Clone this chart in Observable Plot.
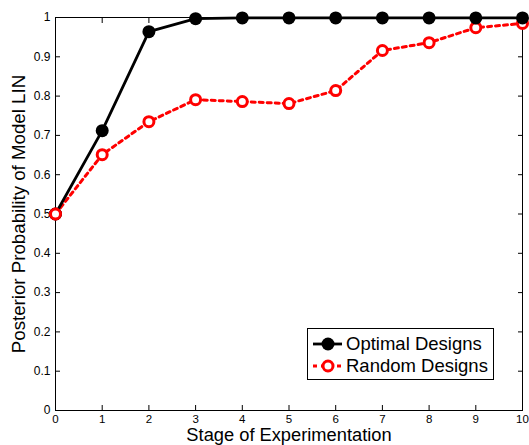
<!DOCTYPE html>
<html>
<head>
<meta charset="utf-8">
<script src="https://cdn.jsdelivr.net/npm/d3@7"></script>
<script src="https://cdn.jsdelivr.net/npm/@observablehq/plot@0.6"></script>
<style>
  html, body { margin: 0; padding: 0; background: #fff; }
  #wrap { position: relative; width: 529px; height: 445px; font-family: "Liberation Sans", Arial, Helvetica, sans-serif; }
  #legend { position: absolute; left: 307px; top: 328px; width: 185px; height: 50px; border: 1px solid #000; background: #fff; font-size: 18.5px; color: #000; }
  .row { position: absolute; left: 5px; height: 20px; display: flex; align-items: center; white-space: nowrap; }
  .row svg { margin-right: 3px; }
</style>
</head>
<body>
<div id="wrap"></div>
<script>
const stages = [0, 1, 2, 3, 4, 5, 6, 7, 8, 9, 10];
const optimal = [0.5, 0.712, 0.964, 0.997, 0.999, 0.999, 0.999, 0.999, 0.999, 0.999, 0.999];
const random = [0.5, 0.651, 0.735, 0.791, 0.786, 0.781, 0.814, 0.916, 0.936, 0.974, 0.985];
const xTicks = [0, 1, 2, 3, 4, 5, 6, 7, 8, 9, 10];
const yTicks = [0, 0.1, 0.2, 0.3, 0.4, 0.5, 0.6, 0.7, 0.8, 0.9, 1];
const seriesNames = ["Optimal Designs", "Random Designs"];
const xLabel = "Stage of Experimentation";
const yLabel = "Posterior Probability of Model LIN";

const optData = stages.map((s, i) => ({x: s, y: optimal[i]}));
const rndData = stages.map((s, i) => ({x: s, y: random[i]}));
const fmt = d => String(d);

const chart = Plot.plot({
  width: 529,
  height: 445,
  marginLeft: 55,
  marginRight: 7,
  marginTop: 17,
  marginBottom: 35,
  style: {fontFamily: "'Liberation Sans', Arial, Helvetica, sans-serif", fontSize: "12px", color: "#000", background: "#fff", overflow: "visible"},
  x: {domain: [0, 10]},
  y: {domain: [0, 1]},
  marks: [
    Plot.frame({stroke: "#000", strokeWidth: 1}),
    Plot.axisX(xTicks, {anchor: "bottom", tickSize: -5, tickFormat: () => "", label: null, stroke: "#000"}),
    Plot.axisX(xTicks, {anchor: "top", tickSize: -5, tickFormat: () => "", label: null, stroke: "#000"}),
    Plot.axisY(yTicks, {anchor: "left", tickSize: -5, tickFormat: () => "", label: null, stroke: "#000"}),
    Plot.axisY(yTicks, {anchor: "right", tickSize: -5, tickFormat: () => "", label: null, stroke: "#000"}),
    Plot.axisX(xTicks, {anchor: "bottom", tickSize: 0, tickPadding: 4, tickFormat: fmt, label: null, fill: "#000", fontSize: 11.5}),
    Plot.axisY(yTicks, {anchor: "left", tickSize: 0, tickPadding: 5, tickFormat: fmt, label: null, fill: "#000", fontSize: 12}),
    Plot.text([xLabel], {frameAnchor: "bottom", dy: 25, lineAnchor: "middle", fontSize: 18.3, fill: "#000"}),
    Plot.text([yLabel], {frameAnchor: "left", dx: -36, rotate: -90, textAnchor: "middle", lineAnchor: "middle", fontSize: 18.7, fill: "#000"}),
    Plot.line(rndData, {x: "x", y: "y", stroke: "#ff0000", strokeWidth: 3, strokeDasharray: "4,4"}),
    Plot.dot(rndData, {x: "x", y: "y", r: 5, stroke: "#ff0000", strokeWidth: 3, fill: "#fff"}),
    Plot.line(optData, {x: "x", y: "y", stroke: "#000", strokeWidth: 2.8}),
    Plot.dot(optData, {x: "x", y: "y", r: 6.5, fill: "#000", stroke: "none"}),
    Plot.dot(rndData.slice(0, 1), {x: "x", y: "y", r: 5, stroke: "#ff0000", strokeWidth: 3, fill: "#fff"})
  ]
});

const wrap = document.getElementById("wrap");
wrap.appendChild(chart);

const legend = document.createElement("div");
legend.id = "legend";
legend.innerHTML = `
  <div class="row" style="top:5px">
    <svg width="30" height="16"><line x1="0" y1="8" x2="29" y2="8" stroke="#000" stroke-width="2.8"/><circle cx="15" cy="8" r="6.5" fill="#000"/></svg>
    <span>${seriesNames[0]}</span>
  </div>
  <div class="row" style="top:27px">
    <svg width="30" height="16"><line x1="0" y1="8" x2="29" y2="8" stroke="#f00" stroke-width="3" stroke-dasharray="4,4"/><circle cx="15" cy="8" r="5" fill="#fff" stroke="#f00" stroke-width="3"/></svg>
    <span>${seriesNames[1]}</span>
  </div>`;
wrap.appendChild(legend);
</script>
</body>
</html>
